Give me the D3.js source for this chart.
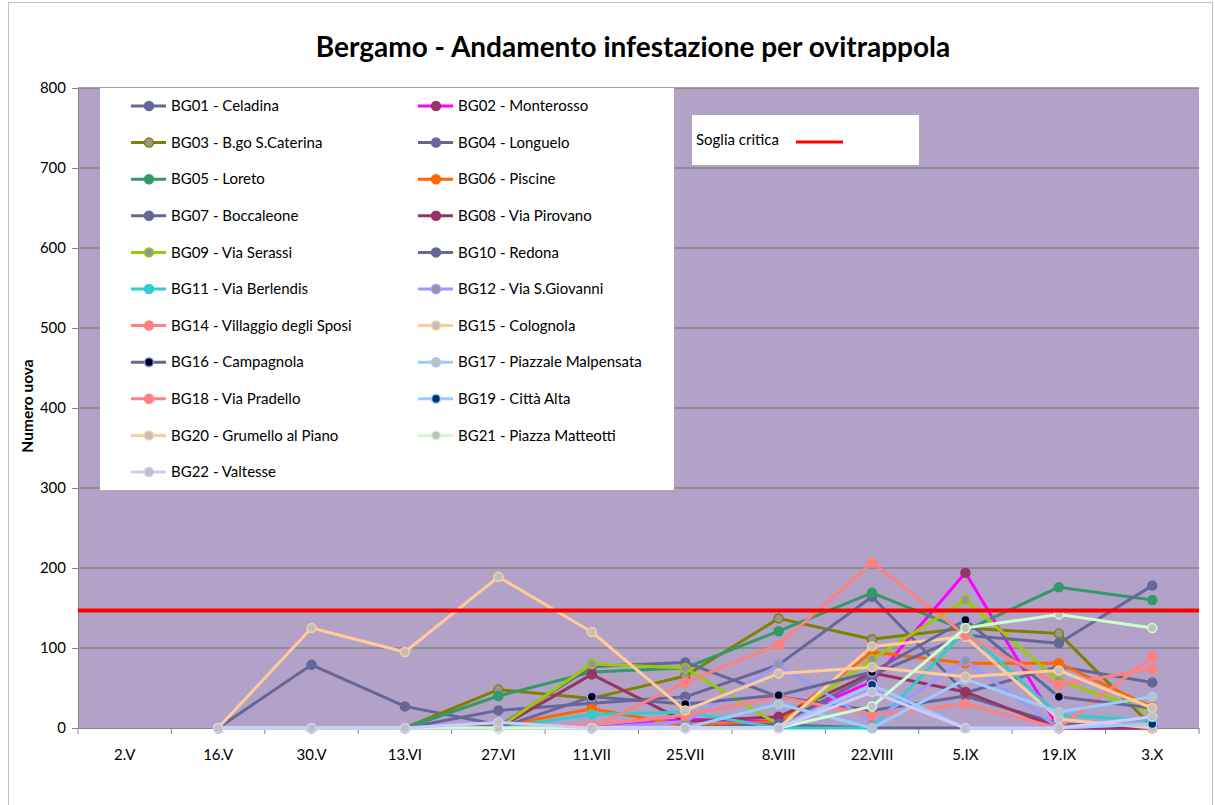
<!DOCTYPE html>
<html>
<head>
<meta charset="utf-8">
<script src="https://cdn.jsdelivr.net/npm/d3@7"></script>
<style>
  body { margin: 0; background: #fff; }
  text { font-family: Lato, "Open Sans", sans-serif; fill: #000; }
</style>
</head>
<body>
<script>

// dates of the samplings (x axis)
var categories = ["2.V", "16.V", "30.V", "13.VI", "27.VI", "11.VII", "25.VII", "8.VIII", "22.VIII", "5.IX", "19.IX", "3.X"]

// eggs per trap, one array per ovitrap (null = no reading)
var bg01 = [null, 0, 79, 27, 4, 0, 0, 4, 0, 0, 0, 0]
var bg02 = [null, 0, 0, 0, 0, 0, 11, 8, 58, 194, 0, 0]
var bg03 = [null, 0, 0, 0, 48, 37, 65, 137, 111, 125, 118, 2]
var bg04 = [null, 0, 0, 0, 22, 31, 39, 79, 164, 44, 77, 57]
var bg05 = [null, 0, 0, 0, 40, 70, 75, 121, 169, 122, 176, 160]
var bg06 = [null, 0, 0, 0, 2, 24, 3, 8, 95, 81, 81, 26]
var bg07 = [null, 0, 0, 0, 2, 77, 82, 39, 22, 40, 5, 2]
var bg08 = [null, 0, 0, 0, 0, 67, 8, 14, 69, 45, 0, 0]
var bg09 = [null, 0, 0, 0, 0, 80, 75, 4, 86, 160, 59, 20]
var bg10 = [null, 0, 0, 0, 0, 0, 0, 5, 66, 116, 106, 178]
var bg11 = [null, 0, 0, 0, 0, 17, 20, 0, 0, 122, 16, 10]
var bg12 = [null, 0, 0, 0, 7, 0, 8, 79, 8, 84, 0, 5]
var bg14 = [null, 0, 0, 0, 0, 4, 16, 39, 16, 30, 0, 89]
var bg15 = [null, 0, 0, 0, 0, 0, 0, 0, 102, 114, 11, 0]
var bg16 = [null, 0, 0, 0, 0, 39, 30, 41, 70, 135, 39, 25]
var bg17 = [null, 0, 0, 0, 0, 0, 0, 30, 0, 61, 20, 39]
var bg18 = [null, 0, 0, 0, 0, 0, 57, 104, 207, 116, 54, 74]
var bg19 = [null, 0, 0, 0, 0, 0, 0, 0, 54, 0, 0, 5]
var bg20 = [null, 0, 125, 95, 189, 120, 22, 68, 76, 64, 72, 25]
var bg21 = [null, 0, 0, 0, 0, 0, 0, 0, 27, 125, 142, 125]
var bg22 = [null, 0, 0, 0, 7, 0, 0, 0, 45, 0, 0, 14]

var threshold = 147

var yTicks = [0, 100, 200, 300, 400, 500, 600, 700, 800]

// name, values, line colour, marker fill, marker stroke
var series = [
  ["BG01 - Celadina", bg01, "#666699", "#666699", "#666699"],
  ["BG02 - Monterosso", bg02, "#FF00FF", "#993366", "#993366"],
  ["BG03 - B.go S.Caterina", bg03, "#808000", "#969696", "#808000"],
  ["BG04 - Longuelo", bg04, "#666699", "#666699", "#666699"],
  ["BG05 - Loreto", bg05, "#339966", "#339966", "#339966"],
  ["BG06 - Piscine", bg06, "#FF6600", "#FF6600", "#FF6600"],
  ["BG07 - Boccaleone", bg07, "#666699", "#666699", "#666699"],
  ["BG08 - Via Pirovano", bg08, "#993366", "#993366", "#993366"],
  ["BG09 - Via Serassi", bg09, "#99CC00", "#969696", "#99CC00"],
  ["BG10 - Redona", bg10, "#666699", "#666699", "#666699"],
  ["BG11 - Via Berlendis", bg11, "#33CCCC", "#33CCCC", "#33CCCC"],
  ["BG12 - Via S.Giovanni", bg12, "#9999FF", "#969696", "#9999FF"],
  ["BG14 - Villaggio degli Sposi", bg14, "#FF8080", "#FF8080", "#FF8080"],
  ["BG15 - Colognola", bg15, "#FFCC99", "#C0C0C0", "#FFCC99"],
  ["BG16 - Campagnola", bg16, "#666699", "#000000", "#9999FF"],
  ["BG17 - Piazzale Malpensata", bg17, "#99CCFF", "#C0C0C0", "#99CCFF"],
  ["BG18 - Via Pradello", bg18, "#FF8080", "#FF8080", "#FF8080"],
  ["BG19 - Città Alta", bg19, "#99CCFF", "#003366", "#99CCFF"],
  ["BG20 - Grumello al Piano", bg20, "#FFCC99", "#C0C0C0", "#FFCC99"],
  ["BG21 - Piazza Matteotti", bg21, "#CCFFCC", "#C0C0C0", "#CCFFCC"],
  ["BG22 - Valtesse", bg22, "#CCCCFF", "#C0C0C0", "#CCCCFF"]
]

var W = 1215, H = 805
var plotL = 78, plotR = 1199, plotT = 88, plotB = 728

var svg = d3.select("body")
  .append("svg")
  .attr("width", W)
  .attr("height", H)

// chart border
svg.append("rect")
  .attr("x", 8.5).attr("y", 2.5)
  .attr("width", 1204).attr("height", 820)
  .attr("fill", "#fff")
  .attr("stroke", "#BFBFBF")

svg.append("text")
  .attr("x", 633).attr("y", 57)
  .attr("text-anchor", "middle")
  .style("font-size", "28px")
  .style("font-weight", "bold")
  .text("Bergamo - Andamento infestazione per ovitrappola")

var x = d3.scaleBand().domain(categories).range([plotL, plotR])
var y = d3.scaleLinear().domain([0, 800]).range([plotB, plotT])
var cx = function (c) { return x(c) + x.bandwidth() / 2 }

// plot area
svg.append("rect")
  .attr("x", plotL).attr("y", plotT)
  .attr("width", plotR - plotL).attr("height", plotB - plotT)
  .attr("fill", "#B3A2C7")

// gridlines
svg.selectAll(".grid")
  .data(yTicks.slice(1))
  .enter()
  .append("line")
  .attr("x1", plotL).attr("x2", plotR)
  .attr("y1", function (d) { return y(d) }).attr("y2", function (d) { return y(d) })
  .attr("stroke", "#868686")
  .attr("stroke-width", 1.3)

// y axis
var yAxis = svg.append("g")
  .attr("transform", "translate(" + plotL + ",0)")
  .call(d3.axisLeft(y).tickValues(yTicks).tickSize(6).tickPadding(6))
yAxis.selectAll("text").style("font-size", "15px").style("font-family", "Lato, sans-serif")
yAxis.selectAll("line, path").attr("stroke", "#868686")

// x axis
var xAxis = svg.append("g")
  .attr("transform", "translate(0," + plotB + ")")
  .call(d3.axisBottom(x).tickSize(0).tickPadding(21))
xAxis.selectAll("text").style("font-size", "15px").style("font-family", "Lato, sans-serif")
xAxis.select("path").attr("stroke", "#868686")
xAxis.selectAll(".sep")
  .data(d3.range(categories.length + 1))
  .enter()
  .append("line")
  .attr("x1", function (i) { return plotL + i * x.bandwidth() })
  .attr("x2", function (i) { return plotL + i * x.bandwidth() })
  .attr("y1", 0).attr("y2", 6)
  .attr("stroke", "#868686")

svg.append("text")
  .attr("transform", "translate(28,406) rotate(-90)")
  .attr("text-anchor", "middle")
  .attr("dy", "0.35em")
  .style("font-size", "15.5px")
  .style("font-weight", "bold")
  .text("Numero uova")

var line = d3.line()
  .defined(function (d) { return d[1] != null })
  .x(function (d) { return cx(d[0]) })
  .y(function (d) { return y(d[1]) })

series.forEach(function (s) {
  var pts = categories.map(function (c, i) { return [c, s[1][i]] })
  var g = svg.append("g")
  g.append("path")
    .attr("d", line(pts))
    .attr("fill", "none")
    .attr("stroke", s[2])
    .attr("stroke-width", 3)
    .attr("stroke-linejoin", "round")
  g.selectAll("circle")
    .data(pts.filter(function (d) { return d[1] != null }))
    .enter()
    .append("circle")
    .attr("cx", function (d) { return cx(d[0]) })
    .attr("cy", function (d) { return y(d[1]) })
    .attr("r", 4.5)
    .attr("fill", s[3])
    .attr("stroke", s[4])
    .attr("stroke-width", 1.5)
})

// critical threshold
svg.append("line")
  .attr("x1", plotL).attr("x2", plotR)
  .attr("y1", y(threshold)).attr("y2", y(threshold))
  .attr("stroke", "#FF0000")
  .attr("stroke-width", 4)

// legend
svg.append("rect")
  .attr("x", 100).attr("y", plotT)
  .attr("width", 574).attr("height", 402)
  .attr("fill", "#fff")

var items = svg.selectAll(".leg")
  .data(series)
  .enter()
  .append("g")
  .attr("transform", function (d, i) {
    return "translate(" + (i % 2 ? 418 : 131) + "," + (106 + Math.floor(i / 2) * 36.6) + ")"
  })
items.append("line")
  .attr("x1", 0).attr("x2", 35)
  .attr("stroke", function (d) { return d[2] })
  .attr("stroke-width", 3)
items.append("circle")
  .attr("cx", 18).attr("r", 4.5)
  .attr("fill", function (d) { return d[3] })
  .attr("stroke", function (d) { return d[4] })
  .attr("stroke-width", 1.5)
items.append("text")
  .attr("x", 40).attr("dy", "0.35em")
  .style("font-size", "15px")
  .text(function (d) { return d[0] })

// threshold legend
svg.append("rect")
  .attr("x", 692).attr("y", 115)
  .attr("width", 227).attr("height", 50)
  .attr("fill", "#fff")
svg.append("text")
  .attr("x", 696).attr("y", 140)
  .attr("dy", "0.35em")
  .style("font-size", "15px")
  .text("Soglia critica")
svg.append("line")
  .attr("x1", 796).attr("x2", 843)
  .attr("y1", 142).attr("y2", 142)
  .attr("stroke", "#FF0000")
  .attr("stroke-width", 3)

</script>
</body>
</html>
